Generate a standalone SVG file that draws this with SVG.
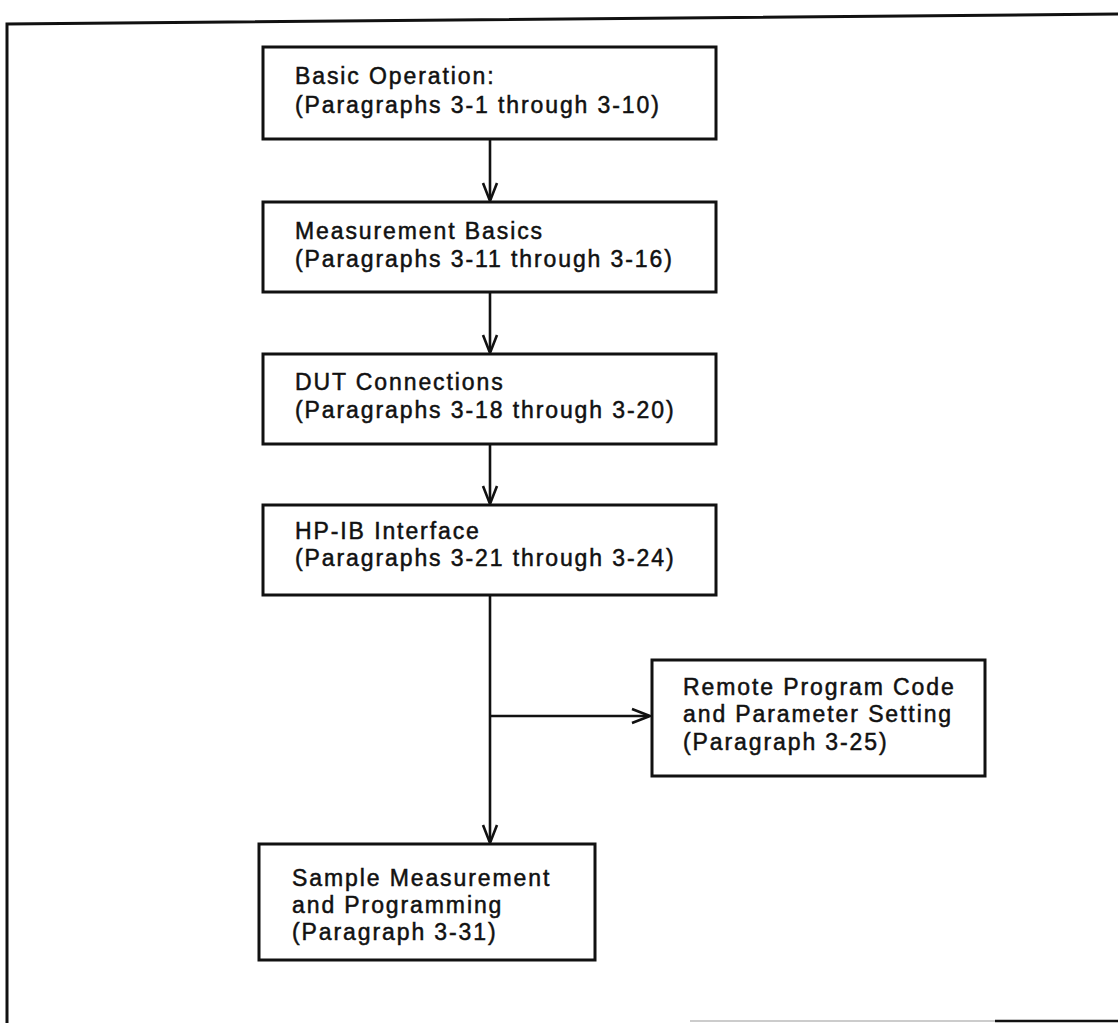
<svg xmlns="http://www.w3.org/2000/svg" width="1118" height="1023" viewBox="0 0 1118 1023">
<style>
.box{fill:#fff;stroke:#111;stroke-width:3}
.ln{fill:none;stroke:#111;stroke-width:2.6}
.hd{fill:none;stroke:#111;stroke-width:2.6;stroke-linejoin:miter}
.frame{fill:none;stroke:#111;stroke-width:3}
text{font-family:"Liberation Sans",Arial,sans-serif;font-size:23px;fill:#111;stroke:#111;stroke-width:0.5;letter-spacing:1.9px}
</style>
<rect width="1118" height="1023" fill="#fff"/>
<g id="frame">
<path class="frame" d="M7,1023 L7,24 L1118,14"/>
<path d="M690,1021 L995,1021" stroke="#bbb" stroke-width="1.5"/>
<path d="M995,1021 L1118,1021" stroke="#111" stroke-width="2.5"/>
</g>
<g id="connectors">
<path class="ln" d="M490,139 V200"/><path class="hd" d="M483,183 L490,201 L497,183"/>
<path class="ln" d="M490,292 V352"/><path class="hd" d="M483,335 L490,353 L497,335"/>
<path class="ln" d="M490,444 V503"/><path class="hd" d="M483,486 L490,504 L497,486"/>
<path class="ln" d="M490,595 V842"/><path class="hd" d="M483,825 L490,843 L497,825"/>
<path class="ln" d="M490,716 H649"/><path class="hd" d="M632,709 L650,716 L632,723"/>
</g>
<g id="n1"><rect class="box" x="263" y="47" width="453" height="92"/>
<text x="295" y="84">Basic Operation:</text><text x="295" y="113">(Paragraphs 3-1 through 3-10)</text></g>
<g id="n2"><rect class="box" x="263" y="202" width="453" height="90"/>
<text x="295" y="239">Measurement Basics</text><text x="295" y="267">(Paragraphs 3-11 through 3-16)</text></g>
<g id="n3"><rect class="box" x="263" y="354" width="453" height="90"/>
<text x="295" y="390">DUT Connections</text><text x="295" y="418">(Paragraphs 3-18 through 3-20)</text></g>
<g id="n4"><rect class="box" x="263" y="505" width="453" height="90"/>
<text x="295" y="539">HP-IB Interface</text><text x="295" y="566">(Paragraphs 3-21 through 3-24)</text></g>
<g id="n5"><rect class="box" x="652" y="660" width="333" height="116"/>
<text x="683" y="695">Remote Program Code</text><text x="683" y="722">and Parameter Setting</text><text x="683" y="750">(Paragraph 3-25)</text></g>
<g id="n6"><rect class="box" x="259" y="844" width="336" height="116"/>
<text x="292" y="886">Sample Measurement</text><text x="292" y="913">and Programming</text><text x="292" y="940">(Paragraph 3-31)</text></g>
</svg>
